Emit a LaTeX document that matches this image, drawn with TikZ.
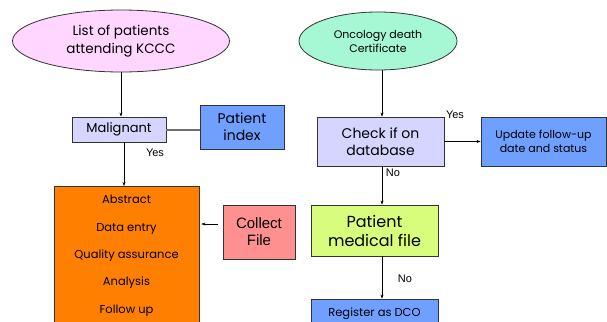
\documentclass[tikz,border=0pt]{standalone}
\usepackage{fontspec}
\setmainfont{Poppins}
\newfontfamily\arialfont{Liberation Sans}
\usetikzlibrary{positioning}
\usetikzlibrary{arrows.meta}
\usetikzlibrary{shapes.geometric}
\definecolor{pinkfill}{HTML}{FFD6FF}
\definecolor{mintfill}{HTML}{A6F8D4}
\definecolor{lavfill}{HTML}{D5D5FF}
\definecolor{bluefill}{HTML}{6FA0FF}
\definecolor{limefill}{HTML}{D8FC7C}
\definecolor{salmonfill}{HTML}{FF9090}
\definecolor{orangefill}{HTML}{FF7F00}
\definecolor{edgegray}{HTML}{333333}
\definecolor{linkgray}{HTML}{6E6E6E}

\begin{document}
\begin{tikzpicture}[x=1pt,y=-1pt,
    startnode/.style={ellipse, draw=edgegray, line width=0.8pt, inner sep=0pt, align=center},
    boxnode/.style={rectangle, draw=edgegray, line width=0.8pt, inner sep=0pt, align=center},
    flow/.style={line width=0.6pt, -{Stealth[length=4pt,width=3pt]}},
    answer/.style={font=\arialfont\fontsize{11}{13}\selectfont, inner sep=0pt}]
    \clip (0,0) rectangle (607,321);
    \fill[white] (0,0) rectangle (607,321);
    \node[startnode, fill=pinkfill, minimum width=217pt, minimum height=62pt,
          font=\fontsize{13.5}{18}\selectfont] (list) at (121,41) {List of patients\\attending KCCC};
    \node[startnode, fill=mintfill, minimum width=158pt, minimum height=58pt,
          font=\fontsize{11}{14}\selectfont] (onc) at (378,41) {Oncology death\\Certificate};
    \node[boxnode, fill=lavfill, minimum width=94pt, minimum height=25pt,
          font=\fontsize{13}{16}\selectfont] (malig) at (119,129.5) {Malignant};
    \node[boxnode, fill=bluefill, minimum width=84pt, minimum height=44pt,
          font=\fontsize{14}{17}\selectfont] (index) at (242,127) {Patient\\index};
    \node[boxnode, fill=lavfill, minimum width=127pt, minimum height=49pt,
          font=\fontsize{14}{17}\selectfont] (check) at (380.5,141.5) {Check if on\\database};
    \node[boxnode, fill=bluefill, minimum width=125pt, minimum height=49pt,
          font=\fontsize{11}{14}\selectfont] (update) at (543.5,141.5) {Update follow-up\\date and status};
    \node[boxnode, fill=limefill, minimum width=127pt, minimum height=51pt,
          font=\fontsize{16}{19}\selectfont] (medfile) at (374.5,230.5) {Patient\\medical file};
    \node[boxnode, fill=bluefill, minimum width=127pt, minimum height=30pt,
          font=\fontsize{11.5}{14}\selectfont] (dco) at (374.5,314) {Register as DCO};
    \node[boxnode, fill=orangefill, minimum width=145pt, minimum height=150pt, anchor=north,
          inner ysep=9pt, font=\fontsize{11.5}{27.3}\selectfont] (work) at (126.5,186)
          {Abstract\\Data entry\\Quality assurance\\Analysis\\Follow up\\[60pt]};
    \node[boxnode, fill=salmonfill, minimum width=72pt, minimum height=54pt,
          font=\arialfont\fontsize{15}{17}\selectfont] (collect) at (259,232) {Collect\\File};
    % answers
    \node[answer] (yes1) at (155,153) {Yes};
    \node[answer] (yes2) at (455,115) {Yes};
    \node[answer] (no1) at (393,173) {No};
    \node[answer] (no2) at (405,279) {No};
    % connectors
    \path[draw, flow] (list.south) -- (list.south |- malig.north);
    \path[draw, flow] ([xshift=1.5pt]check.north |- onc.south) -- ([xshift=1.5pt]check.north);
    \path[draw, line width=2pt, linkgray] (malig.east) -- (malig.east -| index.west);
    \path[draw, flow] ([xshift=5pt]malig.south) -- ([xshift=5pt]malig.south |- work.north);
    \path[draw, flow] (check.east) -- (update.west);
    \path[draw, flow] ([xshift=1.5pt]check.south) -- ([xshift=1.5pt]check.south |- medfile.north);
    \path[draw, flow] ([xshift=7.5pt]medfile.south) -- ([xshift=7.5pt]medfile.south |- dco.north);
    \path[draw, flow, shorten <=5pt, shorten >=2pt] ([yshift=8pt]collect.west) -- ([yshift=8pt]collect.west -| work.east);
\end{tikzpicture}
\end{document}
